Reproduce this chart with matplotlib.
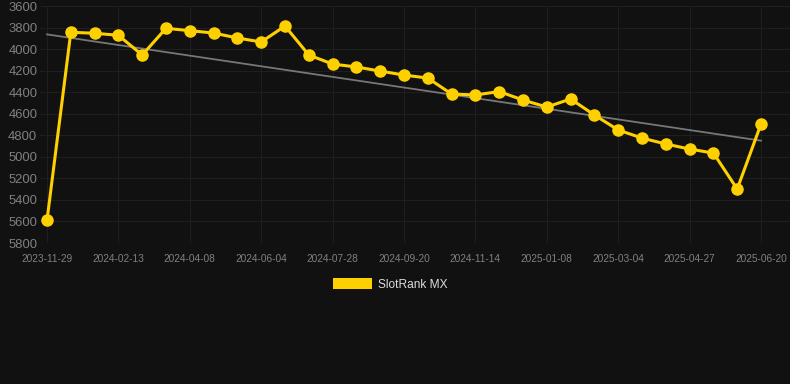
import numpy as np
import matplotlib
matplotlib.use("Agg")
import matplotlib.pyplot as plt
from matplotlib.patches import Patch

# rank values, one per point (lower rank number = better, axis is inverted)
rank = [5590, 3844, 3853, 3872, 4055, 3807, 3829, 3851, 3897, 3934,
        3786, 4055, 4139, 4166, 4204, 4241, 4269, 4417, 4426, 4394,
        4473, 4538, 4463, 4612, 4751, 4826, 4881, 4928, 4965, 5299,
        4696]
tick_labels = ["2023-11-29", "2024-02-13", "2024-04-08", "2024-06-04",
               "2024-07-28", "2024-09-20", "2024-11-14", "2025-01-08",
               "2025-03-04", "2025-04-27", "2025-06-20"]
y_ticks = [3600, 3800, 4000, 4200, 4400, 4600, 4800, 5000, 5200, 5400, 5600, 5800]
series_name = "SlotRank MX"

bg = "#111111"
gold = "#FFD000"

plt.rcParams["font.family"] = ["Liberation Sans", "DejaVu Sans"]

fig = plt.figure(figsize=(7.9, 3.84), dpi=100, facecolor=bg)
W, H = 790, 384
ax = fig.add_axes([40 / W, 1 - 243 / H, (790 - 40) / W, (243 - 6) / H])
ax.set_facecolor(bg)

x = np.arange(len(rank))
step = (761 - 47) / (len(rank) - 1)
ax.set_xlim(-(47 - 40) / step, len(rank) - 1 + (790 - 761) / step)
ax.set_ylim(5800, 3600)

# trend line (least squares)
k, b = np.polyfit(x, rank, 1)
ax.plot(x, k * x + b, color="#777777", lw=1.3, zorder=2)

ax.plot(x, rank, color=gold, lw=2.2, marker="o", ms=8,
        markerfacecolor=gold, markeredgecolor=gold, zorder=3)

ax.set_xticks(x[::3])
ax.set_xticklabels(tick_labels)
ax.set_yticks(y_ticks)
ax.set_yticklabels([str(v) for v in y_ticks])
ax.tick_params(axis="x", length=0, pad=8, labelsize=7.3, labelcolor="#808080")
ax.tick_params(axis="y", length=0, pad=2, labelsize=9.4, labelcolor="#808080")
ax.grid(True, color="#1f1f1f", lw=0.8)
ax.set_axisbelow(True)
for s in ax.spines.values():
    s.set_visible(False)

fig.legend(handles=[Patch(facecolor=gold, edgecolor="none", label=series_name)],
           loc="center", bbox_to_anchor=(390 / W, 1 - 284.5 / H), frameon=False,
           fontsize=8.6, labelcolor="#dddddd", handlelength=3.3, handleheight=1.0,
           handletextpad=0.5)

fig.savefig("out.png", dpi=100, facecolor=bg)
